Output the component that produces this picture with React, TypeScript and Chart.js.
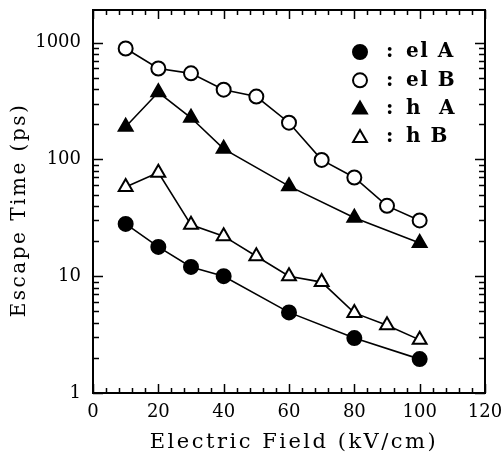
import React, { useEffect, useRef } from "react";
import { Chart, registerables } from "chart.js";

Chart.register(...registerables);

// ---- data ----
const elAField = [10, 20, 30, 40, 60, 80, 100];
const elATime = [28, 17.8, 12, 10, 4.9, 2.95, 1.95];

const elBField = [10, 20, 30, 40, 50, 60, 70, 80, 90, 100];
const elBTime = [890, 600, 545, 395, 345, 206, 99, 70, 40, 30];

const hAField = [10, 20, 30, 40, 60, 80, 100];
const hATime = [190, 375, 227, 123, 59, 31.6, 19.2];

const hBField = [10, 20, 30, 40, 50, 60, 70, 80, 90, 100];
const hBTime = [58, 77, 27.5, 22, 14.8, 10, 8.9, 4.85, 3.8, 2.85];

const seriesLabels = ["el A", "el B", "h  A", "h B"];
const xTickValues = [0, 20, 40, 60, 80, 100, 120];
const yTickLabels = [1, 10, 100, 1000];
const xTitle = "Electric Field (kV/cm)";
const yTitle = "Escape Time (ps)";

const FONT = "'DejaVu Serif', serif";

const toPoints = (xs: number[], ys: number[]) => xs.map((x, i) => ({ x, y: ys[i] }));

function drawMarker(ctx: CanvasRenderingContext2D, style: string, filled: boolean, x: number, y: number, r: number) {
  ctx.save();
  ctx.beginPath();
  if (style === "circle") {
    ctx.arc(x, y, r, 0, Math.PI * 2);
  } else {
    const h = r * 1.5;
    const w = r * Math.sqrt(3);
    ctx.moveTo(x, y - r);
    ctx.lineTo(x + w / 2, y - r + h);
    ctx.lineTo(x - w / 2, y - r + h);
    ctx.closePath();
  }
  ctx.fillStyle = filled ? "#000" : "#fff";
  ctx.fill();
  ctx.lineWidth = 2;
  ctx.strokeStyle = "#000";
  ctx.stroke();
  ctx.restore();
}

const framePlugin = {
  id: "frame",
  beforeDatasetsDraw(chart: any) {
    const { ctx, chartArea } = chart;
    const { left, right, top, bottom } = chartArea;
    const xs = chart.scales.x;
    const ys = chart.scales.y;
    ctx.save();
    ctx.strokeStyle = "#000";
    ctx.lineWidth = 1.5;
    // x ticks (major every 20, minor every 4)
    for (let v = xs.min; v <= xs.max + 1e-9; v += 4) {
      const px = Math.round(xs.getPixelForValue(v)) + 0.5;
      const len = v % 20 === 0 ? 9 : 5;
      ctx.beginPath();
      ctx.moveTo(px, bottom);
      ctx.lineTo(px, bottom - len);
      ctx.moveTo(px, top);
      ctx.lineTo(px, top + len);
      ctx.stroke();
    }
    // y ticks (log)
    for (let d = 0; d <= 3; d++) {
      for (let m = 1; m <= 9; m++) {
        const v = m * Math.pow(10, d);
        if (v < ys.min || v > ys.max) continue;
        const py = Math.round(ys.getPixelForValue(v)) + 0.5;
        const len = m === 1 ? 10 : 6;
        ctx.beginPath();
        ctx.moveTo(left, py);
        ctx.lineTo(left + len, py);
        ctx.moveTo(right, py);
        ctx.lineTo(right - len, py);
        ctx.stroke();
      }
    }
    ctx.lineWidth = 2;
    ctx.strokeRect(left, top, right - left, bottom - top);
    ctx.restore();
  },
  afterDraw(chart: any) {
    const { ctx, chartArea } = chart;
    const { left, right, top } = chartArea;
    ctx.save();
    ctx.fillStyle = "#000";
    // x title
    ctx.font = `21px ${FONT}`;
    (ctx as any).letterSpacing = "2.5px";
    ctx.textAlign = "center";
    ctx.textBaseline = "alphabetic";
    ctx.fillText(xTitle, (left + right) / 2 + 5, 448);
    // y title
    ctx.save();
    ctx.font = `20px ${FONT}`;
    ctx.translate(20, 210);
    ctx.rotate(-Math.PI / 2);
    (ctx as any).letterSpacing = "2.5px";
    ctx.textBaseline = "middle";
    ctx.fillText(yTitle, 0, 0);
    ctx.restore();
    // legend
    (ctx as any).letterSpacing = "1.5px";
    ctx.textAlign = "left";
    ctx.textBaseline = "middle";
    chart.data.datasets.forEach((ds: any, i: number) => {
      const y = top + 42 + i * 28.3;
      const mx = right - 125;
      drawMarker(ctx, ds.pointStyle, ds.pointBackgroundColor === "#000", mx, y + (ds.pointStyle === "circle" ? 0 : 1), ds.pointStyle === "circle" ? 7 : 8);
      ctx.font = `bold 20px ${FONT}`;
      ctx.fillText(":", right - 99, y);
      ctx.fillText(ds.label, right - 79, y);
    });
    ctx.restore();
  },
};

export default function App() {
  const ref = useRef<HTMLCanvasElement | null>(null);
  useEffect(() => {
    if (!ref.current) return;
    const mk = (label: string, pts: any[], style: string, filled: boolean) => ({
      label,
      data: pts,
      borderColor: "#000",
      borderWidth: 1.6,
      pointStyle: style,
      pointRadius: style === "circle" ? 7 : 8,
      pointBackgroundColor: filled ? "#000" : "#fff",
      pointBorderColor: "#000",
      pointBorderWidth: 2,
      showLine: true,
      tension: 0,
      fill: false,
    });
    const chart = new Chart(ref.current, {
      type: "scatter",
      data: {
        datasets: [
          mk(seriesLabels[0], toPoints(elAField, elATime), "circle", true),
          mk(seriesLabels[1], toPoints(elBField, elBTime), "circle", false),
          mk(seriesLabels[2], toPoints(hAField, hATime), "triangle", true),
          mk(seriesLabels[3], toPoints(hBField, hBTime), "triangle", false),
        ],
      },
      options: {
        animation: false,
        responsive: false,
        layout: { padding: { top: 10, right: 19, left: 0, bottom: 0 } },
        plugins: { legend: { display: false }, tooltip: { enabled: false } },
        scales: {
          x: {
            type: "linear",
            min: 0,
            max: 120,
            afterBuildTicks: (s: any) => {
              s.ticks = xTickValues.map((v) => ({ value: v }));
            },
            afterFit: (s: any) => {
              s.height = 64;
              s.paddingLeft = 0;
              s.paddingRight = 0;
            },
            grid: { display: false, drawTicks: false },
            border: { display: false },
            ticks: { color: "#000", font: { family: FONT, size: 18 }, padding: 9, maxRotation: 0 },
          },
          y: {
            type: "logarithmic",
            min: 1,
            max: 1900,
            afterBuildTicks: (s: any) => {
              s.ticks = yTickLabels.map((v) => ({ value: v }));
            },
            afterFit: (s: any) => {
              s.width = 93;
              s.paddingTop = 0;
              s.paddingBottom = 0;
            },
            grid: { display: false, drawTicks: false },
            border: { display: false },
            ticks: {
              color: "#000",
              font: { family: FONT, size: 18 },
              padding: 12,
              callback: (v: any) => String(v),
            },
          },
        },
      },
      plugins: [framePlugin],
    } as any);
    return () => chart.destroy();
  }, []);
  return (
    <div style={{ position: "fixed", left: 0, top: 0, width: 504, height: 457, background: "#fff" }}>
      <canvas ref={ref} width={504} height={457} style={{ width: 504, height: 457 }} />
    </div>
  );
}
